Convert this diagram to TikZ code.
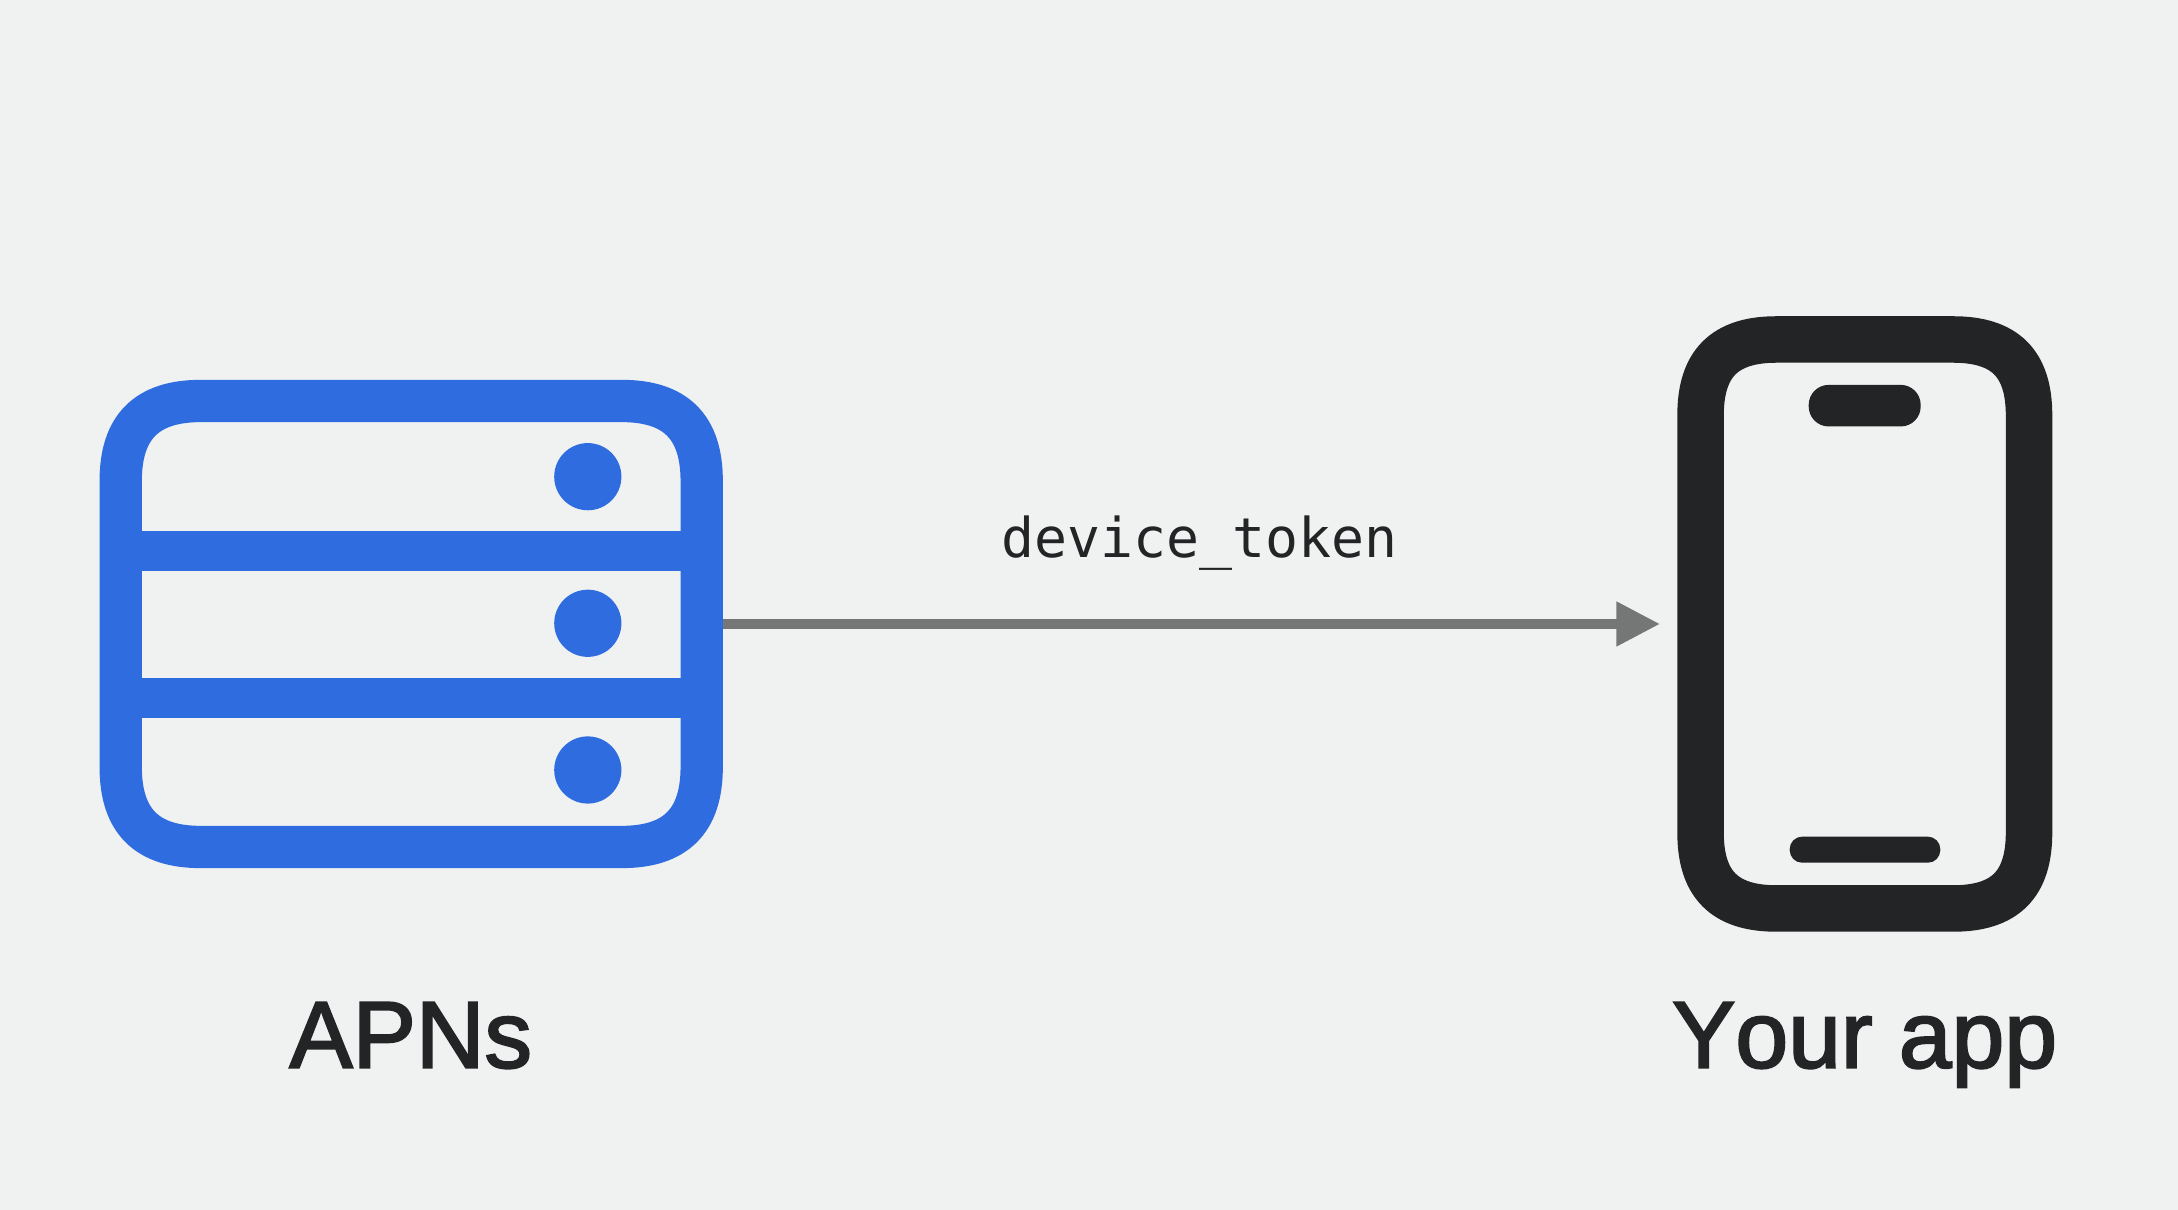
\documentclass[tikz,border=0pt]{standalone}
\usepackage{fontspec}
\usepackage{xcolor}
\usepackage{tikz}
\usetikzlibrary{positioning,arrows.meta}
\newfontfamily\labelfont[Kerning=Off,RawFeature={embolden=2.2}]{Liberation Sans}
\newfontfamily\tokenfont{DejaVu Sans Mono}
\definecolor{bgcol}{HTML}{F0F1F1}
\definecolor{apnsblue}{HTML}{2F6CE0}
\definecolor{inkcol}{HTML}{232425}
\definecolor{arrowgray}{HTML}{757676}
% soft corner outline: centre node, half width, half height, corner length, control offset
\newcommand{\softframe}[5]{
    \path [shift={(#1.center)}] (-#2+#4,#3) -- (#2-#4,#3) .. controls (#2-#5,#3) and (#2,#3-#5) .. (#2,#3-#4)
        -- (#2,-#3+#4) .. controls (#2,-#3+#5) and (#2-#5,-#3) .. (#2-#4,-#3)
        -- (-#2+#4,-#3) .. controls (-#2+#5,-#3) and (-#2,-#3+#5) .. (-#2,-#3+#4)
        -- (-#2,#3-#4) .. controls (-#2,#3-#5) and (-#2+#5,#3) .. (-#2+#4,#3) -- cycle;
}

\begin{document}
\begin{tikzpicture}
\tikzstyle{frame}=[rectangle,inner sep=0pt,outer sep=0pt]
\tikzstyle{bar}=[rectangle,inner sep=0pt,fill=apnsblue,minimum width=5.81cm,minimum height=0.398cm]
\tikzstyle{dot}=[circle,inner sep=0pt,fill=apnsblue,minimum size=0.672cm]
\tikzstyle{pill}=[rectangle,inner sep=0pt,fill=inkcol]
\tikzstyle{caption}=[inner sep=0pt,anchor=base,text=inkcol,font=\labelfont\fontsize{27}{32}\selectfont]
\tikzstyle{tarrow}=[line width=0.108cm,draw=arrowgray,-{Triangle[length=0.44cm,width=0.42cm]},shorten >=0.17cm]

\fill [bgcol] (0,0) rectangle (21.78,12.10);

% server
\node [bar] (bar0) at (4.112,6.59) {};
\node [bar] (bar1) at (4.112,5.118) {};
\foreach \i/\y in {0/7.333,1/5.867,2/4.40}
{
    \node [dot] (dot\i) at (5.878,\y) {};
}
\node [frame,minimum width=6.232cm,minimum height=4.883cm] (apns) at (4.112,5.86) {};
\begin{scope}[every path/.style={draw=apnsblue,line width=0.423cm}]
    \softframe{apns}{2.905}{2.23}{0.8}{0.26}
\end{scope}
\node [caption] (apnslabel) at (4.107,1.423) {APNs};

% phone
\node [frame,minimum width=3.75cm,minimum height=6.155cm] (phone) at (18.648,5.86) {};
\begin{scope}[every path/.style={draw=inkcol,line width=0.465cm}]
    \softframe{phone}{1.6425}{2.845}{0.76}{0.24}
\end{scope}
\node [pill,rounded corners=0.2cm,minimum width=1.12cm,minimum height=0.416cm] (island) at (18.647,8.043) {};
\node [pill,rounded corners=0.125cm,minimum width=1.506cm,minimum height=0.261cm] (homebar) at (18.65,3.603) {};
\node [caption] (phonelabel) at (18.647,1.423) {Your app};

\draw [tarrow] (apns.east) -- (phone.west);
\node [inner sep=0pt,anchor=base,text=inkcol,font=\tokenfont\fontsize{15.6}{19}\selectfont] (token) at (11.994,6.523) {device\_token};
\end{tikzpicture}
\end{document}
